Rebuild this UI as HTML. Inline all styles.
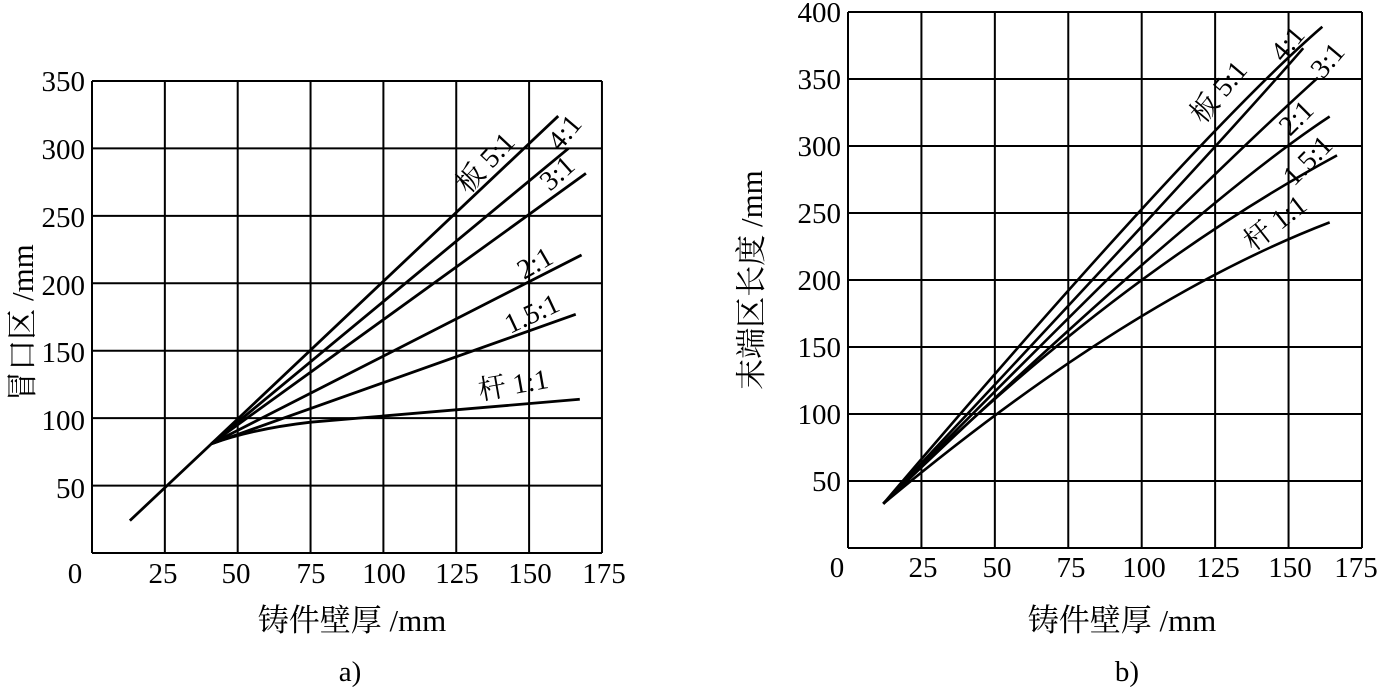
<!DOCTYPE html>
<html><head><meta charset="utf-8"><style>
html,body{margin:0;padding:0;background:#fff;}
svg{display:block;}
text{font-family:"Liberation Serif","Noto Serif CJK SC","Noto Sans CJK SC",serif;fill:#000;}
</style></head><body>
<svg width="1378" height="687" viewBox="0 0 1378 687" xmlns="http://www.w3.org/2000/svg">
<!-- LEFT CHART -->
<g transform="translate(92,553) scale(2.914,-1.3486)" fill="none" stroke="#000">
  <g stroke-width="2">
    <line x1="0" y1="0" x2="0" y2="350" vector-effect="non-scaling-stroke"/>
    <line x1="0" y1="0" x2="175" y2="0" vector-effect="non-scaling-stroke"/>
    <line x1="0" y1="350" x2="175" y2="350" vector-effect="non-scaling-stroke"/>
    <line x1="175" y1="0" x2="175" y2="350" vector-effect="non-scaling-stroke"/>
    <line x1="25" y1="0" x2="25" y2="350" vector-effect="non-scaling-stroke"/>
    <line x1="50" y1="0" x2="50" y2="350" vector-effect="non-scaling-stroke"/>
    <line x1="75" y1="0" x2="75" y2="350" vector-effect="non-scaling-stroke"/>
    <line x1="100" y1="0" x2="100" y2="350" vector-effect="non-scaling-stroke"/>
    <line x1="125" y1="0" x2="125" y2="350" vector-effect="non-scaling-stroke"/>
    <line x1="150" y1="0" x2="150" y2="350" vector-effect="non-scaling-stroke"/>
    <line x1="0" y1="50" x2="175" y2="50" vector-effect="non-scaling-stroke"/>
    <line x1="0" y1="100" x2="175" y2="100" vector-effect="non-scaling-stroke"/>
    <line x1="0" y1="150" x2="175" y2="150" vector-effect="non-scaling-stroke"/>
    <line x1="0" y1="200" x2="175" y2="200" vector-effect="non-scaling-stroke"/>
    <line x1="0" y1="250" x2="175" y2="250" vector-effect="non-scaling-stroke"/>
    <line x1="0" y1="300" x2="175" y2="300" vector-effect="non-scaling-stroke"/>
  </g>
  <g stroke-width="2.8">
    <path d="M13,24 L41,81 L160,324" vector-effect="non-scaling-stroke"/>
    <path d="M41,81 L163.5,300" vector-effect="non-scaling-stroke"/>
    <path d="M41,81 L169.5,281.5" vector-effect="non-scaling-stroke"/>
    <path d="M41,81 L168,221" vector-effect="non-scaling-stroke"/>
    <path d="M41,81 L166,177" vector-effect="non-scaling-stroke"/>
    <path d="M41,81 Q55,92 75,97 L167.4,114" vector-effect="non-scaling-stroke"/>
  </g>
</g>
<g font-size="29" text-anchor="end">
  <text x="85" y="91">350</text><text x="85" y="159">300</text><text x="85" y="227">250</text>
  <text x="85" y="295">200</text><text x="85" y="362">150</text><text x="85" y="430">100</text><text x="85" y="498">50</text>
</g>
<g font-size="29" text-anchor="middle">
  <text x="75" y="583">0</text><text x="163" y="583">25</text><text x="236" y="583">50</text>
  <text x="311" y="583">75</text><text x="384" y="583">100</text><text x="457" y="583">125</text>
  <text x="530" y="583">150</text><text x="604" y="583">175</text>
</g>
<g font-size="31" text-anchor="middle">
  <text x="352" y="631">铸件壁厚 /mm</text>
  <text x="350" y="681" font-size="29">a)</text>
</g>
<text font-size="31" text-anchor="middle" transform="translate(33,323) rotate(-90)">冒口区 /mm</text>
<g font-size="28">
  <text transform="translate(468,195) rotate(-47)">板 5:1</text>
  <text transform="translate(560,152) rotate(-50)">4:1</text>
  <text transform="translate(550,192) rotate(-42)">3:1</text>
  <text transform="translate(524,280) rotate(-30)">2:1</text>
  <text transform="translate(510,334) rotate(-25)">1.5:1</text>
  <text transform="translate(480,400) rotate(-10)">杆 1:1</text>
</g>

<!-- RIGHT CHART -->
<g transform="translate(848,548) scale(2.937,-1.34)" fill="none" stroke="#000">
  <g stroke-width="2">
    <line x1="0" y1="0" x2="0" y2="400" vector-effect="non-scaling-stroke"/>
    <line x1="0" y1="0" x2="175" y2="0" vector-effect="non-scaling-stroke"/>
    <line x1="0" y1="400" x2="175" y2="400" vector-effect="non-scaling-stroke"/>
    <line x1="175" y1="0" x2="175" y2="400" vector-effect="non-scaling-stroke"/>
    <line x1="25" y1="0" x2="25" y2="400" vector-effect="non-scaling-stroke"/>
    <line x1="50" y1="0" x2="50" y2="400" vector-effect="non-scaling-stroke"/>
    <line x1="75" y1="0" x2="75" y2="400" vector-effect="non-scaling-stroke"/>
    <line x1="100" y1="0" x2="100" y2="400" vector-effect="non-scaling-stroke"/>
    <line x1="125" y1="0" x2="125" y2="400" vector-effect="non-scaling-stroke"/>
    <line x1="150" y1="0" x2="150" y2="400" vector-effect="non-scaling-stroke"/>
    <line x1="0" y1="50" x2="175" y2="50" vector-effect="non-scaling-stroke"/>
    <line x1="0" y1="100" x2="175" y2="100" vector-effect="non-scaling-stroke"/>
    <line x1="0" y1="150" x2="175" y2="150" vector-effect="non-scaling-stroke"/>
    <line x1="0" y1="200" x2="175" y2="200" vector-effect="non-scaling-stroke"/>
    <line x1="0" y1="250" x2="175" y2="250" vector-effect="non-scaling-stroke"/>
    <line x1="0" y1="300" x2="175" y2="300" vector-effect="non-scaling-stroke"/>
    <line x1="0" y1="350" x2="175" y2="350" vector-effect="non-scaling-stroke"/>
  </g>
  <g stroke-width="2.6">
    <path d="M12,33 Q119.25,309 161.5,389" vector-effect="non-scaling-stroke"/>
    <path d="M12,33 Q122.5,291 155,373" vector-effect="non-scaling-stroke"/>
    <path d="M12,33 Q120,272 160,351" vector-effect="non-scaling-stroke"/>
    <path d="M12,33 Q118,256 164,322" vector-effect="non-scaling-stroke"/>
    <path d="M12,33 Q89,201 166.5,293" vector-effect="non-scaling-stroke"/>
    <path d="M12,33 Q95,185 164,243" vector-effect="non-scaling-stroke"/>
  </g>
</g>
<g font-size="29" text-anchor="end">
  <text x="841" y="22">400</text><text x="841" y="89">350</text><text x="841" y="156">300</text>
  <text x="841" y="223">250</text><text x="841" y="290">200</text><text x="841" y="357">150</text>
  <text x="841" y="424">100</text><text x="841" y="491">50</text>
</g>
<g font-size="29" text-anchor="middle">
  <text x="837" y="577">0</text><text x="923" y="577">25</text><text x="997" y="577">50</text>
  <text x="1071" y="577">75</text><text x="1144" y="577">100</text><text x="1218" y="577">125</text>
  <text x="1290" y="577">150</text><text x="1356" y="577">175</text>
</g>
<g font-size="31" text-anchor="middle">
  <text x="1122" y="631">铸件壁厚 /mm</text>
  <text x="1127" y="681" font-size="29">b)</text>
</g>
<text font-size="31" text-anchor="middle" transform="translate(762,280) rotate(-90)">末端区长度 /mm</text>
<g font-size="28">
  <text transform="translate(1203,125) rotate(-50)">板 5:1</text>
  <text transform="translate(1283,63) rotate(-50)">4:1</text>
  <text transform="translate(1323,80) rotate(-50)">3:1</text>
  <text transform="translate(1290,137) rotate(-45)">2:1</text>
  <text transform="translate(1294,187) rotate(-45)">1.5:1</text>
  <text transform="translate(1253,252) rotate(-38)">杆 1:1</text>
</g>
</svg>
</body></html>
